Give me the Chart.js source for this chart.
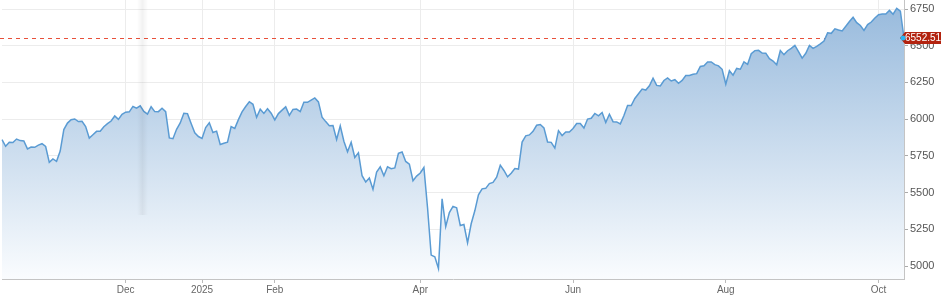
<!DOCTYPE html>
<html>
<head>
<meta charset="utf-8">
<script src="https://cdn.jsdelivr.net/npm/chart.js@4.4.1/dist/chart.umd.min.js"></script>
<style>
  html, body { margin: 0; padding: 0; background: #fff; }
  #wrap { width: 945px; height: 297px; position: relative; }
</style>
</head>
<body>
<div id="wrap"><canvas id="spx"></canvas></div>
<script>
// trading days shown on the chart
const dates = [
  '2024-10-14','2024-10-15','2024-10-16','2024-10-17','2024-10-18','2024-10-21','2024-10-22','2024-10-23','2024-10-24','2024-10-25','2024-10-28','2024-10-29','2024-10-30','2024-10-31',
  '2024-11-01','2024-11-04','2024-11-05','2024-11-06','2024-11-07','2024-11-08','2024-11-11','2024-11-12','2024-11-13','2024-11-14','2024-11-15','2024-11-18','2024-11-19','2024-11-20','2024-11-21','2024-11-22','2024-11-25','2024-11-26','2024-11-27','2024-11-29',
  '2024-12-02','2024-12-03','2024-12-04','2024-12-05','2024-12-06','2024-12-09','2024-12-10','2024-12-11','2024-12-12','2024-12-13','2024-12-16','2024-12-17','2024-12-18','2024-12-19','2024-12-20','2024-12-23','2024-12-24','2024-12-26','2024-12-27','2024-12-30','2024-12-31',
  '2025-01-02','2025-01-03','2025-01-06','2025-01-07','2025-01-08','2025-01-10','2025-01-13','2025-01-14','2025-01-15','2025-01-16','2025-01-17','2025-01-21','2025-01-22','2025-01-23','2025-01-24','2025-01-27','2025-01-28','2025-01-29','2025-01-30','2025-01-31',
  '2025-02-03','2025-02-04','2025-02-05','2025-02-06','2025-02-07','2025-02-10','2025-02-11','2025-02-12','2025-02-13','2025-02-14','2025-02-18','2025-02-19','2025-02-20','2025-02-21','2025-02-24','2025-02-25','2025-02-26','2025-02-27','2025-02-28',
  '2025-03-03','2025-03-04','2025-03-05','2025-03-06','2025-03-07','2025-03-10','2025-03-11','2025-03-12','2025-03-13','2025-03-14','2025-03-17','2025-03-18','2025-03-19','2025-03-20','2025-03-21','2025-03-24','2025-03-25','2025-03-26','2025-03-27','2025-03-28','2025-03-31',
  '2025-04-01','2025-04-02','2025-04-03','2025-04-04','2025-04-07','2025-04-08','2025-04-09','2025-04-10','2025-04-11','2025-04-14','2025-04-15','2025-04-16','2025-04-17','2025-04-21','2025-04-22','2025-04-23','2025-04-24','2025-04-25','2025-04-28','2025-04-29','2025-04-30',
  '2025-05-01','2025-05-02','2025-05-05','2025-05-06','2025-05-07','2025-05-08','2025-05-09','2025-05-12','2025-05-13','2025-05-14','2025-05-15','2025-05-16','2025-05-19','2025-05-20','2025-05-21','2025-05-22','2025-05-23','2025-05-27','2025-05-28','2025-05-29','2025-05-30',
  '2025-06-02','2025-06-03','2025-06-04','2025-06-05','2025-06-06','2025-06-09','2025-06-10','2025-06-11','2025-06-12','2025-06-13','2025-06-16','2025-06-17','2025-06-18','2025-06-20','2025-06-23','2025-06-24','2025-06-25','2025-06-26','2025-06-27','2025-06-30',
  '2025-07-01','2025-07-02','2025-07-03','2025-07-07','2025-07-08','2025-07-09','2025-07-10','2025-07-11','2025-07-14','2025-07-15','2025-07-16','2025-07-17','2025-07-18','2025-07-21','2025-07-22','2025-07-23','2025-07-24','2025-07-25','2025-07-28','2025-07-29','2025-07-30','2025-07-31',
  '2025-08-01','2025-08-04','2025-08-05','2025-08-06','2025-08-07','2025-08-08','2025-08-11','2025-08-12','2025-08-13','2025-08-14','2025-08-15','2025-08-18','2025-08-19','2025-08-20','2025-08-21','2025-08-22','2025-08-25','2025-08-26','2025-08-27','2025-08-28','2025-08-29',
  '2025-09-02','2025-09-03','2025-09-04','2025-09-05','2025-09-08','2025-09-09','2025-09-10','2025-09-11','2025-09-12','2025-09-15','2025-09-16','2025-09-17','2025-09-18','2025-09-19','2025-09-22','2025-09-23','2025-09-24','2025-09-25','2025-09-26','2025-09-29','2025-09-30',
  '2025-10-01','2025-10-02','2025-10-03','2025-10-06','2025-10-07','2025-10-08','2025-10-09','2025-10-10'
];

// daily closes
const closes = [
  5859.85,5815.26,5842.47,5841.47,5864.67,5853.98,5851.20,5797.42,5809.86,5808.12,5823.52,5832.92,5813.67,5705.45,
  5728.80,5712.69,5782.76,5929.04,5973.10,5995.54,6001.35,5983.99,5985.38,5949.17,5870.62,5893.62,5916.98,5917.11,5948.71,5969.34,5987.37,6021.63,5998.74,6032.38,
  6047.15,6049.88,6086.49,6075.11,6090.27,6052.85,6034.91,6084.19,6051.25,6051.09,6074.08,6050.61,5872.16,5867.08,5930.85,5974.07,6040.04,6037.59,5970.84,5906.94,5881.63,
  5868.55,5942.47,5975.38,5909.03,5918.25,5827.04,5836.22,5842.91,5949.91,5937.34,5996.66,6049.24,6086.37,6118.71,6101.24,6012.28,6067.70,6039.31,6071.17,6040.53,
  5994.57,6037.88,6061.48,6083.57,6025.99,6066.44,6068.50,6051.97,6115.07,6114.63,6129.58,6144.15,6117.52,6013.13,5983.25,5955.25,5956.06,5861.57,5954.50,
  5849.72,5778.15,5842.63,5738.52,5770.20,5614.56,5572.07,5599.30,5521.52,5638.94,5675.12,5614.66,5675.29,5662.89,5667.56,5767.57,5776.65,5712.20,5693.31,5580.94,5611.85,
  5633.07,5670.97,5396.52,5074.08,5062.25,4982.77,5456.90,5268.05,5363.36,5405.97,5396.63,5275.70,5282.70,5158.20,5287.76,5375.86,5484.77,5525.21,5528.75,5560.83,5569.06,
  5604.14,5686.67,5650.38,5606.91,5631.28,5663.94,5659.91,5844.19,5886.55,5892.58,5916.93,5958.38,5963.60,5940.46,5844.61,5842.01,5802.82,5921.54,5888.55,5912.17,5911.69,
  5935.94,5970.37,5970.81,5939.30,6000.36,6005.88,6038.81,6022.24,6045.26,5976.97,6033.11,5982.72,5980.87,5967.84,6025.17,6092.18,6092.16,6141.02,6173.07,6204.95,
  6198.01,6227.42,6279.35,6229.98,6225.52,6263.26,6280.46,6259.75,6268.56,6243.76,6263.70,6297.36,6296.79,6305.60,6309.62,6358.91,6363.35,6388.64,6389.77,6370.86,6362.90,6339.39,
  6238.01,6329.94,6299.19,6345.06,6340.00,6389.45,6373.45,6445.76,6466.58,6468.54,6449.80,6449.15,6411.37,6395.78,6370.17,6466.91,6439.32,6465.94,6481.40,6501.86,6460.26,
  6415.54,6448.26,6502.08,6481.50,6495.15,6512.61,6532.04,6587.47,6584.29,6615.28,6606.76,6600.35,6631.96,6664.36,6693.75,6656.92,6637.97,6604.72,6643.70,6661.21,6688.46,
  6711.20,6715.35,6715.79,6740.28,6714.59,6753.72,6735.11,6552.51
];

const tickDates = ['2024-12-02','2025-01-02','2025-02-03','2025-04-01','2025-06-02','2025-08-01','2025-10-01'];
const tickNames = ['Dec','2025','Feb','Apr','Jun','Aug','Oct'];
const yTicks = [5000, 5250, 5500, 5750, 6000, 6250, 6500, 6750];
const lastClose = closes[closes.length - 1];

// dashed last-price line goes under the area fill
const priceLine = {
    id: 'priceLine',
    beforeDatasetsDraw(chart) {
        const { ctx, chartArea: a, scales: { y } } = chart;
        const py = Math.round(y.getPixelForValue(lastClose)) + 0.5;
        ctx.save();
        ctx.strokeStyle = '#e8503a';
        ctx.lineWidth = 1;
        ctx.setLineDash([4, 4]);
        ctx.beginPath();
        ctx.moveTo(0, py);
        ctx.lineTo(a.right, py);
        ctx.stroke();
        ctx.restore();
    },
    afterDatasetsDraw(chart) {
        const { ctx, chartArea: a, scales: { y } } = chart;
        const py = Math.round(y.getPixelForValue(lastClose));
        ctx.save();
        // faint vertical streak from the source image
        const g = ctx.createLinearGradient(137, 0, 148, 0);
        g.addColorStop(0, 'rgba(0,0,0,0)');
        g.addColorStop(0.5, 'rgba(0,0,0,0.05)');
        g.addColorStop(1, 'rgba(0,0,0,0)');
        ctx.fillStyle = g;
        ctx.fillRect(137, 0, 11, 215);

        // price tag
        const x0 = a.right - 4, h = 12;
        ctx.fillStyle = '#b3230f';
        ctx.beginPath();
        ctx.moveTo(x0, py);
        ctx.lineTo(x0 + 5, py - h / 2);
        ctx.lineTo(941, py - h / 2);
        ctx.lineTo(941, py + h / 2);
        ctx.lineTo(x0 + 5, py + h / 2);
        ctx.closePath();
        ctx.fill();
        ctx.fillStyle = '#fff';
        ctx.font = '10px "Liberation Sans", Arial, sans-serif';
        ctx.textBaseline = 'middle';
        ctx.fillText(lastClose.toFixed(2), x0 + 5, py + 0.5);

        // last point marker
        const pt = chart.getDatasetMeta(0).data[closes.length - 1];
        ctx.fillStyle = '#27b4f2';
        ctx.beginPath();
        ctx.arc(pt.x - 1, py, 2.5, 0, Math.PI * 2);
        ctx.fill();
        ctx.restore();
    }
};

const ctx = document.getElementById('spx').getContext('2d');

new Chart(ctx, {
    type: 'line',
    data: {
        labels: dates,
        datasets: [{
            data: closes,
            borderColor: '#5a9bd3',
            borderWidth: 1.5,
            pointRadius: 0,
            tension: 0,
            fill: 'start',
            backgroundColor: (c) => {
                const a = c.chart.chartArea;
                if (!a) return '#c8daee';
                const g = c.chart.ctx.createLinearGradient(0, a.top, 0, a.bottom);
                g.addColorStop(0, '#96b9dc');
                g.addColorStop(1, '#fafcfe');
                return g;
            }
        }]
    },
    options: {
        responsive: true,
        maintainAspectRatio: false,
        animation: false,
        layout: { padding: { left: 2, top: 0, right: 0, bottom: 0 } },
        plugins: {
            legend: { display: false },
            tooltip: { enabled: false }
        },
        scales: {
            x: {
                type: 'category',
                offset: false,
                grid: { color: '#ececec', tickLength: 4, tickColor: '#bbb' },
                border: { color: '#c4c4c4' },
                ticks: {
                    autoSkip: false,
                    maxRotation: 0,
                    color: '#666',
                    padding: 1,
                    font: { family: 'Liberation Sans', size: 10 },
                    callback: (v) => {
                        const i = tickDates.indexOf(dates[v]);
                        return i >= 0 ? tickNames[i] : '';
                    }
                },
                afterBuildTicks: (s) => {
                    s.ticks = tickDates.map(d => ({ value: dates.indexOf(d) }));
                },
                afterFit: (s) => { s.height = 18; }
            },
            y: {
                position: 'right',
                min: 4911.5,
                max: 6811.3,
                grid: { color: '#ececec', tickLength: 4, tickColor: '#aaa' },
                border: { color: '#c4c4c4' },
                ticks: {
                    color: '#555',
                    padding: 2,
                    font: { family: 'Liberation Sans', size: 11 },
                    callback: (v) => String(v)
                },
                afterBuildTicks: (s) => {
                    s.ticks = yTicks.map(v => ({ value: v }));
                },
                afterFit: (s) => {
                    s.width = 41;
                    s.paddingTop = 0;
                    s.paddingBottom = 0;
                }
            }
        }
    },
    plugins: [priceLine]
});
</script>
</body>
</html>
